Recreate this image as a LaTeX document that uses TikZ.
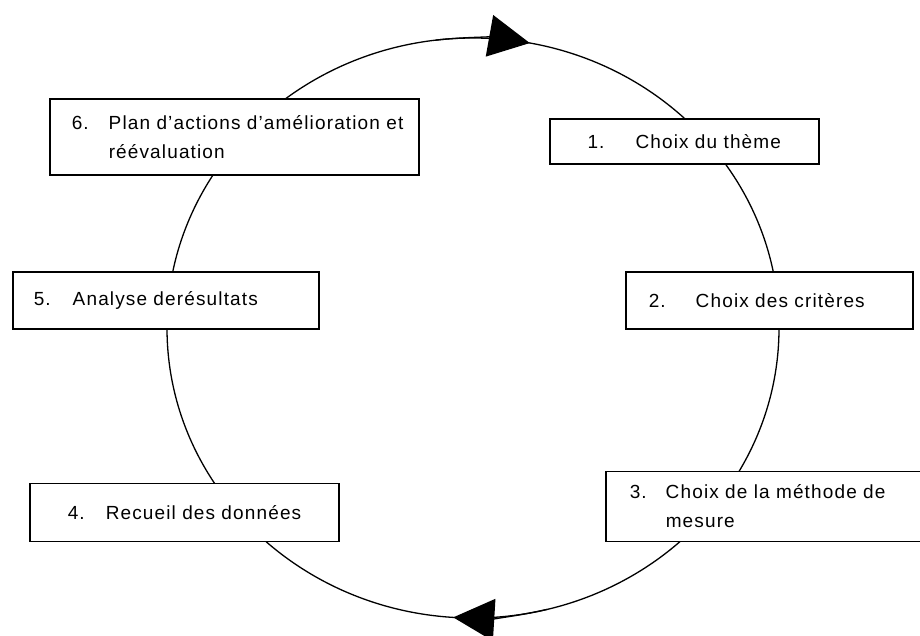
\documentclass[tikz,border=0pt]{standalone}
\usepackage{fontspec}
\setmainfont{Liberation Sans}[LetterSpace=6]
\usetikzlibrary{arrows.meta}

\begin{document}
\begin{tikzpicture}[x=1pt,y=1pt,
  every node/.style={font=\fontsize{19}{29}\selectfont},
  etape/.style={draw,line width=1.5pt,fill=white,anchor=south west,inner ysep=0pt,align=left},
  boucle/.style={line width=1.3pt},
  fleche/.style={boucle,-{Triangle[length=41pt,width=42pt]}}]
\useasboundingbox (0,0) rectangle (920,635);
% le cycle et ses deux fleches
\coordinate (ctr) at (473,307);
\draw[boucle] (ctr) ellipse[x radius=306pt,y radius=290pt];
\draw[fleche] (ctr) ++(97:306pt and 290pt) arc[start angle=97,end angle=79.3,x radius=306pt,y radius=290pt];
\draw[fleche] (ctr) ++(284:306pt and 290pt) arc[start angle=284,end angle=266.3,x radius=306pt,y radius=290pt];
% les six etapes
\node[etape,align=center,inner xsep=0pt,text width=269pt,minimum height=45pt] (e1) at (549,470) {\makebox[48pt][l]{1.}Choix du thème};
\node[etape,inner xsep=23pt,text width=241pt,minimum height=57pt] (e2) at (625,305) {\makebox[47pt][l]{2.}Choix des critères};
\node[etape,inner xsep=24pt,text width=272pt,minimum height=70pt] (e3) at (605,93) {\makebox[36pt][l]{3.}\makebox[245pt][s]{Choix de la méthode de}\\\hspace*{36pt}mesure};
\node[etape,inner xsep=38pt,text width=233pt,minimum height=58pt] (e4) at (29,93) {\makebox[38pt][l]{4.}Recueil des données};
\node[etape,inner xsep=21pt,text width=264pt,minimum height=57pt] (e5) at (12,305) {\makebox[39pt][l]{5.}Analyse derésultats};
\node[etape,inner xsep=22pt,text width=325pt,minimum height=76pt] (e6) at (49,459) {\makebox[37pt][l]{6.}\makebox[302pt][s]{Plan d’actions d’amélioration et}\\\hspace*{37pt}réévaluation};
\end{tikzpicture}
\end{document}
